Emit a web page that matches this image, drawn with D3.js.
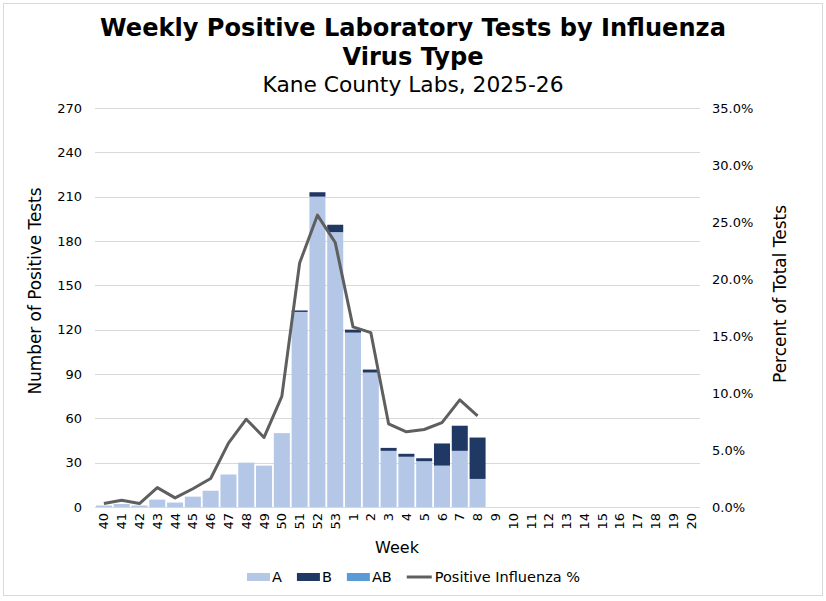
<!DOCTYPE html>
<html>
<head>
<meta charset="utf-8">
<script src="https://cdn.jsdelivr.net/npm/d3@7"></script>
<style>
  html, body { margin: 0; padding: 0; background: #fff; }
  svg text { font-family: "DejaVu Sans", Verdana, sans-serif; fill: #000; }
</style>
</head>
<body>
<div id="chart"></div>
<script>
// --------------- Data ---------------
const weeks = ["40", "41", "42", "43", "44", "45", "46", "47", "48", "49", "50",
  "51", "52", "53", "1", "2", "3", "4", "5", "6", "7", "8", "9", "10", "11",
  "12", "13", "14", "15", "16", "17", "18", "19", "20"];
const fluA = [1, 2, 1, 5, 3, 7, 11, 22, 30, 28, 50, 132, 210, 186, 118, 91, 38, 34, 31, 28, 38, 19];
const fluB = [0, 0, 0, 0, 0, 0, 0, 0, 0, 0, 0, 1, 3, 5, 2, 2, 2, 2, 2, 15, 17, 28];
const fluAB = [0, 0, 0, 0, 0, 0, 0, 0, 0, 0, 0, 0, 0, 0, 0, 0, 0, 0, 0, 0, 0, 0];
const pctPositive = [0.3, 0.6, 0.3, 1.7, 0.8, 1.6, 2.5, 5.6, 7.7, 6.1, 9.7, 21.4, 25.6,
  23.2, 15.8, 15.3, 7.3, 6.6, 6.8, 7.4, 9.4, 8.0];
const countTicks = [0, 30, 60, 90, 120, 150, 180, 210, 240, 270];
const pctTicks = [0, 5, 10, 15, 20, 25, 30, 35];

// --------------- Constants ---------------
const WIDTH = 826;
const HEIGHT = 601;
const LEFT = 95, RIGHT = 700, TOP = 108, BOTTOM = 507;
const COLORS = { A: "#b4c7e7", B: "#203864", AB: "#5b9bd5" };
const LINE_COLOR = "#5f5f5f";
const GRID_COLOR = "#d9d9d9";

const svg = d3.select("#chart")
  .append("svg")
  .attr("width", WIDTH)
  .attr("height", HEIGHT);

// outer frame
svg.append("rect")
  .attr("x", 3.5).attr("y", 3.5)
  .attr("width", 819).attr("height", 592)
  .attr("fill", "#fff")
  .attr("stroke", GRID_COLOR);

// fit a text element to a target width
function fitText(sel, target) {
  const size = parseFloat(sel.attr("font-size"));
  const w = sel.node().getComputedTextLength();
  sel.attr("font-size", (size * target / w).toFixed(2));
  return sel;
}

// --------------- Titles ---------------
const title1 = fitText(svg.append("text")
  .attr("x", 413).attr("y", 36)
  .attr("text-anchor", "middle")
  .attr("font-weight", "bold")
  .attr("font-size", 24)
  .text("Weekly Positive Laboratory Tests by Influenza"), 626);

svg.append("text")
  .attr("x", 413).attr("y", 65)
  .attr("text-anchor", "middle")
  .attr("font-weight", "bold")
  .attr("font-size", title1.attr("font-size"))
  .text("Virus Type");

fitText(svg.append("text")
  .attr("x", 413).attr("y", 92)
  .attr("text-anchor", "middle")
  .attr("font-size", 20)
  .text("Kane County Labs, 2025-26"), 301);

// --------------- Scales ---------------
const x = d3.scaleBand().domain(weeks).range([LEFT, RIGHT]).paddingInner(0.1).paddingOuter(0.05);
const y = d3.scaleLinear().domain([0, 270]).range([BOTTOM, TOP]);
const yPct = d3.scaleLinear().domain([0, 35]).range([BOTTOM, TOP]);

// gridlines
svg.append("g")
  .selectAll("line")
  .data(countTicks)
  .join("line")
  .attr("x1", LEFT).attr("x2", RIGHT)
  .attr("y1", (d) => Math.round(y(d)) + 0.5)
  .attr("y2", (d) => Math.round(y(d)) + 0.5)
  .attr("stroke", GRID_COLOR)
  .attr("stroke-width", 1);

// left axis
const leftAxis = svg.append("g")
  .attr("transform", `translate(${LEFT},0)`)
  .call(d3.axisLeft(y).tickValues(countTicks).tickSize(0).tickPadding(13));
leftAxis.select(".domain").remove();
leftAxis.selectAll("text")
  .attr("font-family", "DejaVu Sans")
  .attr("font-size", 13)
  .attr("fill", "#000");

// right axis
const rightAxis = svg.append("g")
  .attr("transform", `translate(${RIGHT},0)`)
  .call(d3.axisRight(yPct).tickValues(pctTicks).tickSize(0).tickPadding(12)
    .tickFormat((d) => d.toFixed(1) + "%"));
rightAxis.select(".domain").remove();
rightAxis.selectAll("text")
  .attr("font-family", "DejaVu Sans")
  .attr("font-size", 13)
  .attr("fill", "#000");

// --------------- Bars ---------------
const rows = fluA.map((a, i) => ({ week: weeks[i], A: a, B: fluB[i], AB: fluAB[i] }));
const stack = d3.stack().keys(["A", "B", "AB"]);

svg.append("g")
  .selectAll("g")
  .data(stack(rows))
  .join("g")
  .attr("fill", (s) => COLORS[s.key])
  .selectAll("rect")
  .data((s) => s)
  .join("rect")
  .attr("x", (d) => x(d.data.week))
  .attr("width", x.bandwidth())
  .attr("y", (d) => y(d[1]))
  .attr("height", (d) => y(d[0]) - y(d[1]));

// baseline
svg.append("line")
  .attr("x1", LEFT).attr("x2", RIGHT)
  .attr("y1", BOTTOM + 0.5).attr("y2", BOTTOM + 0.5)
  .attr("stroke", GRID_COLOR);

// --------------- Percent line ---------------
const pctLine = d3.line()
  .x((d, i) => x(weeks[i]) + x.bandwidth() / 2)
  .y((d) => yPct(d));

svg.append("path")
  .datum(pctPositive)
  .attr("d", pctLine)
  .attr("fill", "none")
  .attr("stroke", LINE_COLOR)
  .attr("stroke-width", 3)
  .attr("stroke-linejoin", "round");

// --------------- Week labels ---------------
svg.append("g")
  .selectAll("text")
  .data(weeks)
  .join("text")
  .attr("transform", (d) => `translate(${x(d) + x.bandwidth() / 2},${BOTTOM + 6}) rotate(-90)`)
  .attr("text-anchor", "end")
  .attr("dy", "0.35em")
  .attr("font-size", 13)
  .text((d) => d);

// --------------- Axis titles ---------------
svg.append("text")
  .attr("x", 397).attr("y", 553)
  .attr("text-anchor", "middle")
  .attr("font-size", 16)
  .text("Week");

fitText(svg.append("text")
  .attr("transform", "translate(41,291) rotate(-90)")
  .attr("text-anchor", "middle")
  .attr("font-size", 16)
  .text("Number of Positive Tests"), 207);

fitText(svg.append("text")
  .attr("transform", "translate(786,294) rotate(-90)")
  .attr("text-anchor", "middle")
  .attr("font-size", 16)
  .text("Percent of Total Tests"), 178);

// --------------- Legend ---------------
const legendItems = [
  { label: "A", color: COLORS.A, type: "rect" },
  { label: "B", color: COLORS.B, type: "rect" },
  { label: "AB", color: COLORS.AB, type: "rect" },
  { label: "Positive Influenza %", color: LINE_COLOR, type: "line" },
];
const legend = svg.append("g");
let lx = 247;
const ly = 577;
legendItems.forEach((item) => {
  if (item.type === "rect") {
    legend.append("rect")
      .attr("x", lx).attr("y", ly - 4)
      .attr("width", 23).attr("height", 8)
      .attr("fill", item.color);
  } else {
    legend.append("line")
      .attr("x1", lx).attr("x2", lx + 25)
      .attr("y1", ly).attr("y2", ly)
      .attr("stroke", item.color)
      .attr("stroke-width", 3);
  }
  const tx = lx + (item.type === "rect" ? 25 : 28);
  const t = legend.append("text")
    .attr("x", tx)
    .attr("y", ly)
    .attr("dy", "0.35em")
    .attr("font-size", 14.5)
    .text(item.label);
  lx = tx + t.node().getComputedTextLength() + 15;
});
</script>
</body>
</html>
